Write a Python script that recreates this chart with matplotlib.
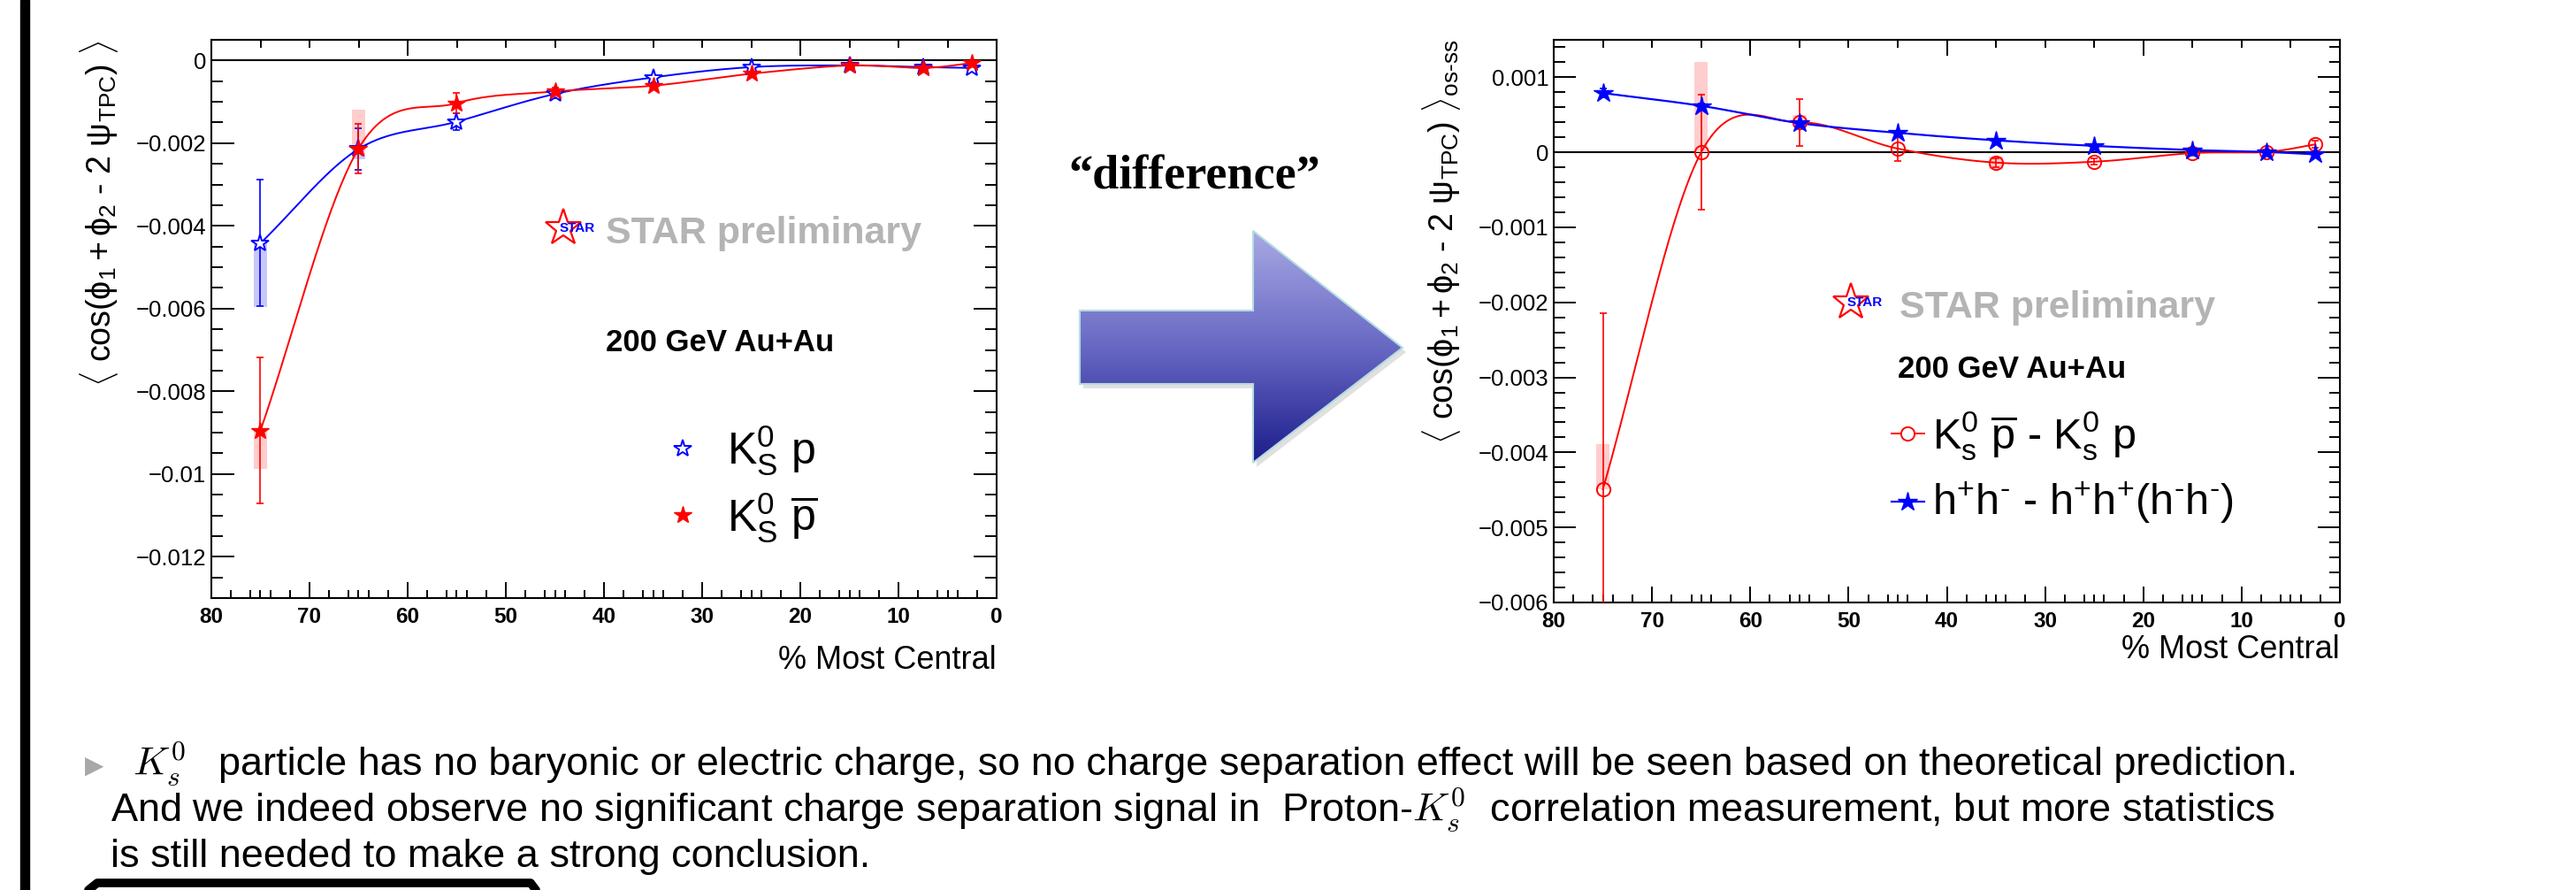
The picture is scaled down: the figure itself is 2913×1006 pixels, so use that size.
import numpy as np
import matplotlib
matplotlib.use('Agg')
import matplotlib.pyplot as plt
from matplotlib.ticker import MultipleLocator, FixedLocator, FuncFormatter
from matplotlib.patches import Polygon, Rectangle

plt.rcParams['font.family'] = ['Liberation Sans', 'DejaVu Sans']
plt.rcParams['mathtext.fontset'] = 'custom'
plt.rcParams['mathtext.rm'] = 'Liberation Sans'
plt.rcParams['mathtext.it'] = 'Liberation Sans:italic'
plt.rcParams['mathtext.bf'] = 'Liberation Sans:bold'

W, H = 2913, 1006

# centrality bins (% most central)
centrality = [75, 65, 55, 45, 35, 25, 15, 7.5, 2.5]

# left panel: K0s-p and K0s-pbar correlators
kp_y = [-0.00442, -0.00214, -0.00148, -0.00081, -0.00041, -0.00016, -0.00012, -0.00016, -0.00018]
kp_err = [0.00153, 0.00050, 0.00020, 0.00010, 0.00006, 0.00005, 0.00004, 0.00004, 0.00004]
kp_sys_lo = [0.00154, 0.00025, 0, 0, 0, 0, 0, 0, 0]
kp_sys_hi = [0, 0, 0, 0, 0, 0, 0, 0, 0]

kpbar_y = [-0.00895, -0.00213, -0.00103, -0.00075, -0.00061, -0.00032, -0.00012, -0.00018, -0.00006]
kpbar_err = [0.00177, 0.00059, 0.00024, 0.00010, 0.00006, 0.00005, 0.00004, 0.00004, 0.00004]
kpbar_sys_lo = [0.00093, 0.00016, 0, 0, 0, 0, 0, 0, 0]
kpbar_sys_hi = [0, 0.00093, 0, 0, 0, 0, 0, 0, 0]

# right panel: differences (os - ss)
diff_y = [-0.00449, 0.0, 0.00040, 0.00005, -0.000137, -0.000125, -0.00001, 0.000005, 0.000106]
diff_err = [0.00235, 0.00077, 0.00031, 0.00016, 0.00006, 0.00004, 0.00003, 0.00003, 0.00005]
diff_sys_lo = [0, 0, 0.00006, 0, 0.00008, 0, 0, 0, 0]
diff_sys_hi = [0.00060, 0.00121, 0.00010, 0, 0.00008, 0, 0, 0, 0]

hh_y = [0.00079, 0.00062, 0.00039, 0.00026, 0.00016, 0.000086, 0.000031, 0.000005, -0.000027]
hh_err = [0.00006, 0.00003, 0.00002, 0.00002, 0.00001, 0.00001, 0.00001, 0.00001, 0.00001]


def rect(x0, y0, x1, y1):
    return [x0 / W, 1 - y1 / H, (x1 - x0) / W, (y1 - y0) / H]


def smooth(x, y, sx, sy, n=40):
    # uniform Catmull-Rom through the points, in screen-like units (like ROOT "C")
    p = np.column_stack([np.asarray(x) * sx, np.asarray(y) * sy])
    p = np.vstack([2 * p[0] - p[1], p, 2 * p[-1] - p[-2]])
    out = []
    t = np.linspace(0, 1, n)[:, None]
    for i in range(1, len(p) - 2):
        p0, p1, p2, p3 = p[i - 1], p[i], p[i + 1], p[i + 2]
        seg = 0.5 * ((2 * p1) + (-p0 + p2) * t + (2 * p0 - 5 * p1 + 4 * p2 - p3) * t ** 2
                     + (-p0 + 3 * p1 - 3 * p2 + p3) * t ** 3)
        out.append(seg)
    out = np.vstack(out)
    return out[:, 0] / sx, out[:, 1] / sy


def fmt(v, pos):
    v = round(v, 6)
    if v == 0:
        return '0'
    return ('%g' % v).replace('-', '\u2212')


def root_axes(r, ylim, ymaj, ymin, ylen):
    ax = fig.add_axes(r)
    ax.set_xlim(80, 0)
    ax.set_ylim(*ylim)
    ax.set_xticks(range(0, 81, 10), [str(v) for v in range(0, 81, 10)],
                  fontweight='bold', fontsize=17.5)
    ax.xaxis.set_minor_locator(FixedLocator(sorted(set(range(0, 81, 2)) | set(range(5, 80, 10)))))
    ax.yaxis.set_major_locator(MultipleLocator(ymaj))
    ax.yaxis.set_minor_locator(MultipleLocator(ymin))
    ax.yaxis.set_major_formatter(FuncFormatter(fmt))
    ax.tick_params(axis='y', which='major', length=ylen, width=1.4, labelsize=18.5, pad=4)
    ax.tick_params(axis='y', which='minor', length=ylen / 2, width=1.4)
    ax.tick_params(axis='x', which='major', length=13, width=1.4, pad=7)
    ax.tick_params(axis='x', which='minor', length=6.5, width=1.4)
    ax.tick_params(which='both', direction='in', right=True, top=False)
    for s in ax.spines.values():
        s.set_linewidth(1.5)
    top = ax.secondary_xaxis('top')
    top.xaxis.set_major_locator(MultipleLocator(20))
    top.xaxis.set_minor_locator(MultipleLocator(5))
    top.tick_params(which='major', direction='in', length=13, width=1.4, labeltop=False)
    top.tick_params(which='minor', direction='in', length=6.5, width=1.4)
    ax.axhline(0, color='black', lw=1.5, zorder=1)
    return ax


fig = plt.figure(figsize=(W / 100, H / 100), dpi=100)

# ---------------- left panel
axL = root_axes(rect(239, 45, 1127, 676), (-0.0130, 0.0005), 0.002, 0.0005, 19)
sxL, syL = 888 / 80, 631 / 0.0135
axL.bar(centrality, np.add(kp_sys_lo, kp_sys_hi), bottom=np.subtract(kp_y, kp_sys_lo),
        width=1.4, color='#c8c8f8', zorder=2)
axL.bar(centrality, np.add(kpbar_sys_lo, kpbar_sys_hi), bottom=np.subtract(kpbar_y, kpbar_sys_lo),
        width=1.4, color='#ffc8c8', alpha=0.9, zorder=2)
cx, cy = smooth(centrality, kp_y, sxL, syL)
axL.plot(cx, cy, color='blue', lw=1.4, zorder=3)
cx, cy = smooth(centrality, kpbar_y, sxL, syL)
axL.plot(cx, cy, color='red', lw=1.4, zorder=3)
axL.errorbar(centrality, kp_y, yerr=kp_err, fmt='none', ecolor='blue', elinewidth=1.2,
             capsize=3, capthick=1.2, zorder=4)
axL.errorbar(centrality, kpbar_y, yerr=kpbar_err, fmt='none', ecolor='red', elinewidth=1.2,
             capsize=3, capthick=1.2, zorder=4)
axL.plot(centrality, kp_y, ls='none', marker='*', ms=15, mfc='white', mec='blue', mew=1.4, zorder=5)
axL.plot(centrality, kpbar_y, ls='none', marker='*', ms=15, mfc='red', mec='red', mew=1, zorder=6)

# ---------------- right panel
axR = root_axes(rect(1757, 45, 2646, 681), (-0.0060, 0.0015), 0.001, 0.0002, 18)
sxR, syR = 889 / 80, 636 / 0.0075
axR.bar(centrality, np.add(diff_sys_lo, diff_sys_hi), bottom=np.subtract(diff_y, diff_sys_lo),
        width=1.4, color='#ffc8c8', alpha=0.9, zorder=2)
cx, cy = smooth(centrality, diff_y, sxR, syR)
axR.plot(cx, cy, color='red', lw=1.4, zorder=3)
cx, cy = smooth(centrality, hh_y, sxR, syR)
axR.plot(cx, cy, color='blue', lw=1.6, zorder=3)
axR.errorbar(centrality, diff_y, yerr=diff_err, fmt='none', ecolor='red', elinewidth=1.2,
             capsize=3, capthick=1.2, zorder=4)
axR.errorbar(centrality, hh_y, yerr=hh_err, fmt='none', ecolor='blue', elinewidth=1.2,
             capsize=3, capthick=1.2, zorder=4)
axR.plot(centrality, diff_y, ls='none', marker='o', ms=11, mfc='none', mec='red', mew=1.4, zorder=5)
axR.plot(centrality, hh_y, ls='none', marker='*', ms=16, mfc='blue', mec='blue', mew=1, zorder=6)

# ---------------- overlay in pixel coordinates
ov = fig.add_axes([0, 0, 1, 1], zorder=10)
ov.patch.set_alpha(0)
ov.axis('off')

# slide border
ov.add_patch(Rectangle((23, 0), 10, H, color='black'))

# y titles
core = r'\langle\ \mathrm{cos}(\mathrm{\phi}_{1} + \mathrm{\phi}_{2}\ \text{-}\ 2\ \mathrm{\psi}_{\mathrm{TPC}})\ \rangle'
ov.text(112, 45, '$' + core + '$', rotation=90, ha='center', va='top', fontsize=27)
ov.text(1630, 45, '$' + core + r'_{\text{os-ss}}$', rotation=90, ha='center', va='top', fontsize=27)

# x titles
ov.text(1127, 747, '% Most Central', ha='right', va='center', fontsize=26)
ov.text(2646, 735, '% Most Central', ha='right', va='center', fontsize=26)

# STAR preliminary labels
for (sx, tx, by) in [(637, 685, 275), (2093, 2148, 359)]:
    ov.plot([sx], [by - 17], marker='*', ms=31, mfc='none', mec='red', mew=1.6)
    ov.text(sx + 16, by - 17, 'STAR', color='blue', fontsize=11, fontweight='bold',
            ha='center', va='center')
    ov.text(tx, by, 'STAR preliminary', color='#b4b4b4', fontsize=31,
            fontweight='bold', va='baseline')

ov.text(685, 397, '200 GeV Au+Au', fontsize=25, fontweight='bold', va='baseline')
ov.text(2146, 427, '200 GeV Au+Au', fontsize=25, fontweight='bold', va='baseline')

# legends
ov.plot([772], [507], marker='*', ms=15, mfc='white', mec='blue', mew=1.4, ls='none')
ov.text(822, 524, r'$\mathrm{K_{S}^{0}\ p}$', fontsize=36, va='baseline')
ov.plot([772], [582], marker='*', ms=15, mfc='red', mec='red', ls='none')
ov.text(822, 600, r'$\mathrm{K_{S}^{0}\ \overline{p}}$', fontsize=36, va='baseline')

ov.plot([2139, 2176], [490, 490], color='red', lw=1.4)
ov.plot([2157], [490], marker='o', ms=11, mfc='white', mec='red', mew=1.4)
ov.text(2185, 507, r'$\mathrm{K_{s}^{0}\ \overline{p}\ \text{-}\ K_{s}^{0}\ p}$', fontsize=35, va='baseline')
ov.plot([2139, 2176], [567, 567], color='blue', lw=1.6)
ov.plot([2157], [567], marker='*', ms=16, mfc='blue', mec='blue')
ov.text(2185, 582, r'$\mathrm{h^{+}h^{\text{-}}\ \text{-}\ h^{+}h^{+}(h^{\text{-}}h^{\text{-}})}$',
        fontsize=35, va='baseline')

# "difference" arrow
ov.text(1351, 213, '\u201cdifference\u201d', family='Liberation Serif', fontweight='bold',
        fontsize=39, ha='center', va='baseline')
arrow_xy = [(1221, 351), (1417, 351), (1417, 261), (1586, 393), (1417, 523), (1417, 434), (1221, 434)]
shadow = Polygon([(x + 4, y + 5) for x, y in arrow_xy], closed=True, color='#000000', alpha=0.12, lw=0)
ov.add_patch(shadow)
arrow = Polygon(arrow_xy, closed=True, facecolor='none', edgecolor='#b4dce0', lw=1.5, zorder=3)
ov.add_patch(arrow)
g = np.linspace(0, 1, 256)[:, None]
top_c = np.array([168, 168, 228]) / 255
mid_c = np.array([104, 104, 196]) / 255
bot_c = np.array([28, 28, 140]) / 255
grad = np.where(g < 0.5, top_c + (mid_c - top_c) * (g / 0.5), mid_c + (bot_c - mid_c) * ((g - 0.5) / 0.5))
grad = grad[:, None, :] * np.ones((1, 2, 1))
im = ov.imshow(grad, extent=(1221, 1586, 523, 261), origin='upper', aspect='auto', zorder=2)
im.set_clip_path(arrow)

# bottom text
fs = 32.5
ov.text(107, 874, '\u25b6', family='DejaVu Sans', color='#a8a8a8', fontsize=20, ha='center', va='baseline')
ov.text(150, 876, r'$K_s^0$', fontsize=fs, va='baseline', math_fontfamily='cm')
ov.text(247, 876, 'particle has no baryonic or electric charge, so no charge separation effect will be seen based on theoretical prediction.',
        fontsize=fs, va='baseline')
ov.text(125, 928, r'And we indeed observe no significant charge separation signal in  Proton-$K_s^0$  correlation measurement, but more statistics',
        fontsize=fs, va='baseline', math_fontfamily='cm')
ov.text(125, 980, 'is still needed to make a strong conclusion.', fontsize=fs, va='baseline')
ov.plot([100, 110, 600, 606], [1006, 998, 998, 1006], color='black', lw=7, solid_capstyle='round')

ov.set_xlim(0, W)
ov.set_ylim(H, 0)

fig.savefig('out.png', dpi=100)
